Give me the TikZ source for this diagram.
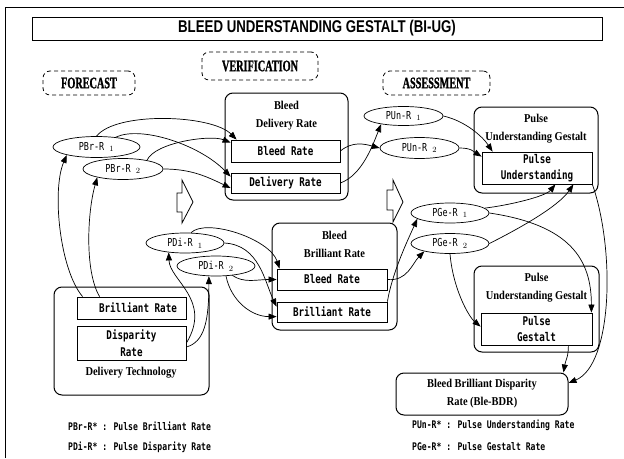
\documentclass[tikz,border=0pt]{standalone}
\usepackage{fontspec}
\usepackage{tikz}
\usetikzlibrary{arrows.meta, shapes.geometric, positioning}
\newfontfamily\gothfont[FakeStretch=0.77]{DejaVu Sans Mono}
\newfontfamily\romfont[FakeStretch=0.87]{Liberation Serif}
\newfontfamily\headfont[FakeStretch=0.78]{Liberation Sans}
\newfontfamily\phasefont[FakeStretch=0.64, BoldFeatures={FakeBold=1}]{Liberation Serif}

\begin{document}
\begin{tikzpicture}[x=1pt, y=-1pt,
    frame/.style={draw, rounded corners=8pt, line width=1pt, inner sep=0pt},
    ratebox/.style={draw, line width=0.8pt, inner sep=0pt, align=center,
        font=\gothfont\bfseries\fontsize{12}{16.5}\selectfont},
    pulse/.style={draw, ellipse, line width=0.7pt, inner sep=0pt, minimum width=79pt,
        minimum height=20pt, font=\gothfont\fontsize{11}{12}\selectfont},
    phase/.style={draw, dash pattern=on 4pt off 3pt, rounded corners=7pt, line width=0.8pt,
        inner sep=0pt, font=\phasefont\bfseries\fontsize{16}{17}\selectfont},
    heading/.style={align=center, inner sep=0pt, font=\romfont\bfseries\fontsize{12}{18}\selectfont},
    legend/.style={anchor=west, inner sep=0pt, font=\gothfont\bfseries\fontsize{10.5}{12}\selectfont},
    conn/.style={-{Triangle[length=8pt,width=6pt]}, line width=0.7pt}]
    \useasboundingbox (0,0) rectangle (624,458);

    % Frame and title
    \draw[line width=0.8pt] (5,458) -- (5,7) -- (624,7);
    \node[draw, line width=0.8pt, minimum width=570pt, minimum height=23pt, inner sep=0pt,
        font=\headfont\bfseries\fontsize{17}{18}\selectfont] (title) at (317,28.5)
        {BLEED UNDERSTANDING GESTALT (BI-UG)};

    % Phases
    \node[phase, minimum width=92pt, minimum height=24pt] (forecast) at (89,83) {FORECAST};
    \node[phase, minimum width=116pt, minimum height=28pt] (verification) at (260,66) {VERIFICATION};
    \node[phase, minimum width=107pt, minimum height=24pt] (assessment) at (436.5,83) {ASSESSMENT};

    % Delivery technology
    \node[frame, minimum width=155pt, minimum height=108pt] (dt) at (131.5,341) {};
    \node[ratebox, minimum width=109pt, minimum height=22pt] (dtbrill) at (131.5,308) {\hspace*{13pt}Brilliant Rate};
    \node[ratebox, minimum width=109pt, minimum height=34pt] (dtdisp) at (131.5,343) {Disparity\\Rate};
    \node[heading] (dtlabel) at (131,373) {Delivery Technology};

    % Bleed delivery rate
    \node[frame, minimum width=123pt, minimum height=107pt] (bdr) at (286.5,146.5) {};
    \node[heading] (bdrlabel) at (286.5,116) {Bleed\\Delivery Rate};
    \node[ratebox, minimum width=109pt, minimum height=22pt] (bdrbleed) at (285.5,151) {Bleed Rate};
    \node[ratebox, minimum width=109pt, minimum height=20pt] (bdrdeliv) at (285.5,183) {Delivery Rate};

    % Bleed brilliant rate
    \node[frame, minimum width=125pt, minimum height=107pt] (bbr) at (334.5,276.5) {};
    \node[heading] (bbrlabel) at (334.5,244) {Bleed\\Brilliant Rate};
    \node[ratebox, minimum width=110pt, minimum height=21pt] (bbrbleed) at (332,279.5) {Bleed Rate};
    \node[ratebox, minimum width=110pt, minimum height=20pt] (bbrbrill) at (332,312) {Brilliant Rate};

    % Pulse understanding gestalt
    \node[frame, minimum width=124pt, minimum height=86pt] (pug) at (536,150) {};
    \node[heading] (puglabel) at (536,128.5) {Pulse\\Understanding Gestalt};
    \node[ratebox, minimum width=110pt, minimum height=32pt] (pugund) at (537,168) {Pulse\\Understanding};
    \node[frame, minimum width=125pt, minimum height=86pt] (pgg) at (536.5,309) {};
    \node[heading] (pgglabel) at (536.5,287.5) {Pulse\\Understanding Gestalt};
    \node[ratebox, minimum width=111pt, minimum height=32pt] (pugges) at (536.5,329) {Pulse\\Gestalt};

    % Result
    \node[frame, heading, minimum width=172pt, minimum height=42pt] (blebdr) at (482,394)
        {Bleed Brilliant Disparity\\Rate (Ble-BDR)};

    % Pulse rates
    \node[pulse, minimum width=87pt, minimum height=21pt] (pbr1) at (96.5,147) {PBr-R\ $_{1}$};
    \node[pulse, minimum width=80pt, minimum height=21pt] (pbr2) at (123,169) {PBr-R\ $_{2}$};
    \node[pulse, minimum width=78pt] (pdi1) at (185,243) {PDi-R\ $_{1}$};
    \node[pulse, minimum width=78pt] (pdi2) at (216,266) {PDi-R\ $_{2}$};
    \node[pulse, minimum height=19pt] (pun1) at (403.5,116) {PUn-R\ $_{1}$};
    \node[pulse, minimum height=21pt] (pun2) at (419.5,148) {PUn-R\ $_{2}$};
    \node[pulse, minimum width=78pt] (pge1) at (450,213) {PGe-R\ $_{1}$};
    \node[pulse, minimum width=78pt] (pge2) at (450,243.5) {PGe-R\ $_{2}$};

    % Block arrows
    \draw[line width=0.8pt] (182,180) -- (193,202) -- (182,223) -- (182,212) -- (177,212)
        -- (177,193) -- (182,193) -- cycle;
    \draw[line width=0.8pt] (393,180) -- (403,202) -- (393,222) -- (393,210) -- (387,210)
        -- (387,190) -- (393,190) -- cycle;

    % Forecast links
    \draw[conn] (pbr1.north) .. controls +(20,-25) and +(-25,-25) .. ([xshift=6pt]bdrbleed.north west);
    \draw[conn] (pbr1.27) .. controls +(25,-12) and +(-31,-32) .. ([yshift=-4pt]bdrdeliv.north west);
    \draw[conn] (pbr2.20) .. controls +(8,-18) and +(-20,-8) .. ([yshift=-3pt]bdrbleed.north west);
    \draw[conn] (pbr2.east) .. controls +(27,0) and +(-25,-12) .. ([yshift=-5pt]bdrdeliv.west);
    \draw[conn] ([xshift=6pt]dtbrill.north west) .. controls +(-23,-27) and +(-15,35) .. (pbr1.195);
    \draw[conn] ([xshift=23pt]dtbrill.north west) .. controls +(-15,-25) and +(-10,35) .. (pbr2.198);
    \draw[conn] (dtdisp.east) .. controls +(26,-43) and +(1,28) .. (pdi1.210);
    \draw[conn] ([yshift=-4pt]dtdisp.east) .. controls +(18,-5) and +(0,45) .. (pdi2.235);
    \draw[conn] (pdi1.60) .. controls +(15,-15) and +(-10,-30) .. ([xshift=3pt]bbrbleed.north west);
    \draw[conn] (pdi1.east) .. controls +(35,2) and +(-12,-25) .. ([yshift=-5pt]bbrbrill.north west);
    \draw[conn] (pdi2.-30) .. controls +(12,8) and +(-20,0) .. (bbrbleed.west);
    \draw[conn] (pdi2.-45) .. controls +(5,25) and +(-25,0) .. ([yshift=-15pt]bbrbrill.north west);

    % Verification links
    \draw[conn] (bdrbleed.east) .. controls +(12,-10) and +(-15,-4) .. (pun2.west);
    \draw[conn] (bdrdeliv.east) .. controls +(22,-8) and +(-8,20) .. (pun1.200);
    \draw[conn] (bbrbleed.east) .. controls +(20,2) and +(-12,12) .. (pge2.197);
    \draw[conn] (bbrbrill.north east) .. controls +(5,-30) and +(-8,18) .. (pge1.190);

    % Assessment links
    \draw[conn] (pun1.east) .. controls +(22,5) and +(-10,-15) .. ([xshift=11pt]pugund.north west);
    \draw[conn] (pun2.east) .. controls +(12,0) and +(-8,-5) .. ([yshift=-5pt]pugund.north west);
    \draw[conn] (pge1.8) .. controls +(25,-3) and +(-10,12) .. ([xshift=-37pt]pugund.south east);
    \draw[conn] (pge2.east) .. controls +(30,-15) and +(-15,22) .. ([xshift=-19pt]pugund.south east);
    \draw[conn] (pge1.east) .. controls +(81,12) and +(0,-53) .. ([xshift=-1pt]pugges.north east);
    \draw[conn] (pge2.south) .. controls +(3,35) and +(-12,-10) .. ([yshift=-14pt]pugges.north west);
    \draw[conn] (pugund.south east) .. controls +(23,66) and +(44,-18) .. ([yshift=11pt]blebdr.east);
    \draw[conn] ([xshift=-24pt]pugges.south east) .. controls +(0,12) and +(2,-12) .. ([xshift=-5pt]blebdr.north east);

    % Legend
    \node[legend] (legpbr) at (68,426) {PBr-R* : Pulse Brilliant Rate};
    \node[legend] (legpdi) at (68,447) {PDi-R* : Pulse Disparity Rate};
    \node[legend] (legpun) at (412,425) {PUn-R* : Pulse Understanding Rate};
    \node[legend] (legpge) at (412,447) {PGe-R* : Pulse Gestalt Rate};
\end{tikzpicture}
\end{document}
